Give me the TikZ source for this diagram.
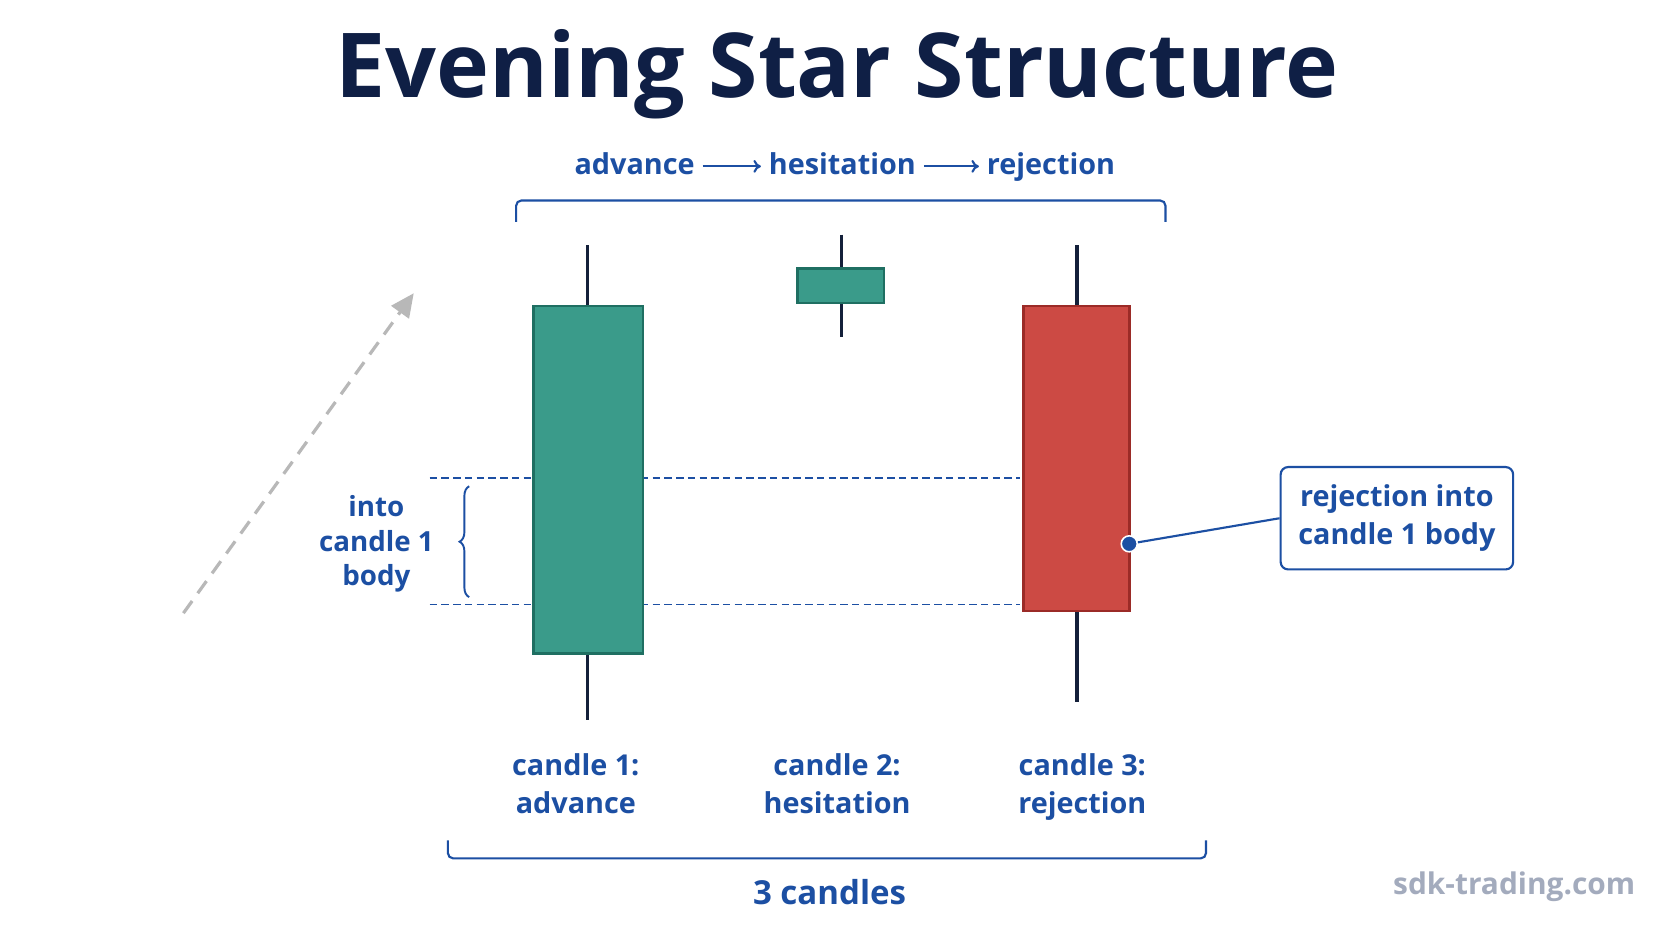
\documentclass[tikz,border=0pt]{standalone}
\usepackage{fontspec}
\setmainfont{Open Sans}
\usetikzlibrary{decorations.pathreplacing,arrows.meta}
\definecolor{navy}{HTML}{0F1F45}
\definecolor{lblue}{HTML}{1C4FA3}
\definecolor{teal}{HTML}{3A9B8A}
\definecolor{tealD}{HTML}{1F6F62}
\definecolor{redc}{HTML}{CC4A44}
\definecolor{redD}{HTML}{9B2B27}
\definecolor{wick}{HTML}{14203A}
\definecolor{wmc}{HTML}{A3ABBD}
\begin{document}
\begin{tikzpicture}[x=1pt,y=-1pt,
  lbl/.style={text=lblue,font=\fontsize{27}{36}\selectfont\bfseries,align=center},
  sw/.style={lbl,text height=20pt,text depth=7pt},
  wk/.style={draw=wick,line width=3pt},
  bull/.style={fill=teal,draw=tealD,line width=2.5pt},
  bear/.style={fill=redc,draw=redD,line width=2.5pt},
  dsh/.style={draw=lblue,line width=1.6pt,dash pattern=on 7pt off 4pt},
  brk/.style={draw=lblue,line width=2pt,rounded corners=5pt},
  sarr/.style={draw=lblue,line width=2pt,-{To[length=7pt,width=12pt]}}]
\fill[white] (0,0) rectangle (1568,882);
\node[text=navy,font=\fontsize{84}{90}\selectfont\bfseries] (title) at (785,70) {Evening Star Structure};
\node[sw,anchor=east] (s1) at (655,157) {advance};
\node[sw] (s2) at (790,157) {hesitation};
\node[sw,anchor=west] (s3) at (922,157) {rejection};
\draw[sarr] ([xshift=4pt,yshift=1pt]s1.east) -- ([xshift=-4pt,yshift=1pt]s2.west);
\draw[sarr] ([xshift=4pt,yshift=1pt]s2.east) -- ([xshift=-4pt,yshift=1pt]s3.west);
\draw[brk] (484,208) -- (484,188) -- (1093,188) -- (1093,208);
% dashed levels
\coordinate (d1a) at (403,448); \coordinate (d1b) at (957,448);
\coordinate (d2a) at (403,567); \coordinate (d2b) at (957,567);
\draw[dsh] (d1a) -- (d1b);
\draw[dsh] (d2a) -- (d2b);
% candle 1
\coordinate (w1a) at (551,230); \coordinate (w1b) at (551,675);
\draw[wk] (w1a) -- (w1b);
\node[bull,minimum width=103pt,minimum height=326pt,inner sep=0pt] (c1) at (551.5,450) {};
% candle 2
\coordinate (w2a) at (789,220); \coordinate (w2b) at (789,316);
\draw[wk] (w2a) -- (w2b);
\node[bull,minimum width=81pt,minimum height=32pt,inner sep=0pt] (c2) at (788.5,268) {};
% candle 3
\coordinate (w3a) at (1010,230); \coordinate (w3b) at (1010,658);
\draw[wk] (w3a) -- (w3b);
\node[bear,minimum width=99pt,minimum height=286pt,inner sep=0pt] (c3) at (1009.5,430) {};
% left brace
\coordinate (bt) at (440,456); \coordinate (bb) at (440,560);
\draw[draw=lblue,line width=1.8pt,decorate,decoration={brace,amplitude=9pt}] (bb) -- (bt);
\node[lbl,font=\fontsize{26}{32}\selectfont\bfseries] (into) at (353,510) {into\\candle 1\\body};
% trend arrow
\coordinate (ta) at (172,575); \coordinate (tb) at (388,275);
\draw[draw=black!28,line width=3pt,dash pattern=on 14pt off 9pt,-{Triangle[length=22pt,width=20pt]}] (ta) -- (tb);
% callout
\node[draw=lblue,line width=2pt,rounded corners=7pt,minimum width=218pt,minimum height=96pt,lbl] (call) at (1310,486) {rejection into\\candle 1 body};
\node[circle,fill=lblue,draw=white,line width=1.5pt,minimum size=15pt,inner sep=0pt] (dot) at (1059,510) {};
\draw[draw=lblue,line width=2pt] (dot) -- (call.west);
% labels
\node[lbl,anchor=north] (l1) at (540,703) {candle 1:\\advance};
\node[lbl,anchor=north] (l2) at (785,703) {candle 2:\\hesitation};
\node[lbl,anchor=north] (l3) at (1015,703) {candle 3:\\rejection};
\draw[brk] (420,788) -- (420,805) -- (1131,805) -- (1131,788);
\node[lbl,font=\fontsize{31}{36}\selectfont\bfseries] (three) at (778,837) {3 candles};
\node[text=wmc,font=\fontsize{28}{34}\selectfont\bfseries] (wm) at (1420,832) {sdk-trading.com};
\end{tikzpicture}
\end{document}
